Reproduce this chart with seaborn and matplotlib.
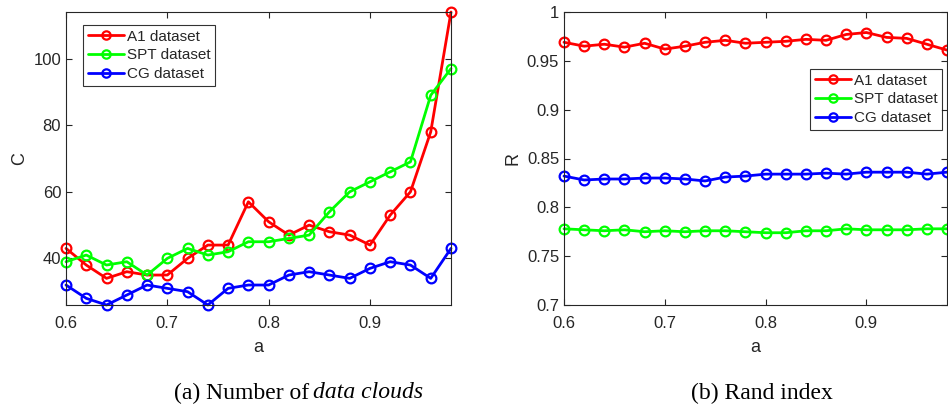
import numpy as np
import pandas as pd
import seaborn as sns
import matplotlib.pyplot as plt

# parameter a on the x axis
a_values = [0.60, 0.62, 0.64, 0.66, 0.68, 0.70, 0.72, 0.74, 0.76, 0.78,
            0.80, 0.82, 0.84, 0.86, 0.88, 0.90, 0.92, 0.94, 0.96, 0.98]
datasets = ["A1 dataset", "SPT dataset", "CG dataset"]

# (a) number of data clouds
c_a1 = [43, 38, 34, 36, 35, 35, 40, 44, 44, 57, 51, 47, 50, 48, 47, 44, 53, 60, 78, 114]
c_spt = [39, 41, 38, 39, 35, 40, 43, 41, 42, 45, 45, 46, 47, 54, 60, 63, 66, 69, 89, 97]
c_cg = [32, 28, 26, 29, 32, 31, 30, 26, 31, 32, 32, 35, 36, 35, 34, 37, 39, 38, 34, 43]

# (b) rand index
r_a1 = [0.969, 0.965, 0.967, 0.964, 0.968, 0.962, 0.965, 0.969, 0.971, 0.968,
        0.969, 0.970, 0.972, 0.971, 0.977, 0.979, 0.974, 0.973, 0.967, 0.961]
r_spt = [0.778, 0.777, 0.776, 0.777, 0.775, 0.776, 0.775, 0.776, 0.776, 0.775,
         0.774, 0.774, 0.776, 0.776, 0.778, 0.777, 0.777, 0.777, 0.778, 0.778]
r_cg = [0.832, 0.828, 0.829, 0.829, 0.830, 0.830, 0.829, 0.827, 0.831, 0.832,
        0.834, 0.834, 0.834, 0.835, 0.834, 0.836, 0.836, 0.836, 0.834, 0.836]

colors = {"A1 dataset": "#ff0000", "SPT dataset": "#00ff00", "CG dataset": "#0000ff"}


def long_form(series):
    dfs = []
    for name, vals in zip(datasets, series):
        dfs.append(pd.DataFrame({"a": a_values, "v": vals, "cat": name}))
    return pd.concat(dfs)


sns.set_theme(style="ticks")
plt.rcParams["font.family"] = ["Liberation Sans", "DejaVu Sans"]
gray = "#262626"
plt.rcParams.update({
    "xtick.direction": "in", "ytick.direction": "in",
    "xtick.color": gray, "ytick.color": gray,
    "xtick.labelcolor": gray, "ytick.labelcolor": gray,
    "axes.edgecolor": gray, "axes.labelcolor": gray,
    "xtick.major.size": 4, "ytick.major.size": 4,
    "axes.linewidth": 0.8,
})

fig = plt.figure(figsize=(9.48, 4.09), dpi=100)
ax1 = fig.add_axes([66 / 948, 1 - 305 / 409, 385 / 948, 293 / 409])
ax2 = fig.add_axes([564 / 948, 1 - 305 / 409, 383 / 948, 293 / 409])


def draw(ax, series, ylim, yticks, ylabel, legend_loc):
    df = long_form(series)
    sns.lineplot(data=df, x="a", y="v", hue="cat", palette=colors, ax=ax,
                 marker="o", markersize=7, markerfacecolor="none",
                 markeredgewidth=1.6, linewidth=2, clip_on=False)
    for line in ax.lines:
        line.set_markeredgecolor(line.get_color())
    ax.set_xlim(0.6, 0.98)
    ax.set_ylim(*ylim)
    ax.set_xticks([0.6, 0.7, 0.8, 0.9])
    ax.set_xticklabels(["0.6", "0.7", "0.8", "0.9"])
    ax.set_yticks(yticks)
    ax.tick_params(labelsize=12, top=True, right=True, width=0.8)
    ax.tick_params(axis="x", pad=8)
    ax.set_xlabel("a", fontsize=13, labelpad=6)
    ax.set_ylabel(ylabel, fontsize=13)
    for s in ax.spines.values():
        s.set_visible(True)
    leg = ax.legend(loc=legend_loc[0], bbox_to_anchor=legend_loc[1], fontsize=11,
                    frameon=True, fancybox=False, edgecolor="black",
                    handlelength=2.4, borderpad=0.3, labelspacing=0.32,
                    handletextpad=0.15, borderaxespad=0)
    leg.get_frame().set_linewidth(0.8)
    for h in leg.get_lines():
        h.set_markerfacecolor("none")
        h.set_markeredgecolor(h.get_color())
        h.set_markersize(6)


draw(ax1, [c_a1, c_spt, c_cg], (26, 114), [40, 60, 80, 100], "C",
     ("upper left", (17 / 385, 1 - 13 / 293)))
ax1.set_yticklabels(["40", "60", "80", "100"])
draw(ax2, [r_a1, r_spt, r_cg], (0.7, 1.0), [0.7, 0.75, 0.8, 0.85, 0.9, 0.95, 1.0], "R",
     ("upper left", ((810 - 564) / 383, 1 - 57 / 293)))
ax2.set_yticklabels(["0.7", "0.75", "0.8", "0.85", "0.9", "0.95", "1"])

serif = ["Liberation Serif", "DejaVu Serif"]
ycap = 1 - 393 / 409
fig.text(309 / 948, ycap, "(a) Number of", ha="right", va="center",
         fontsize=17, family=serif, color="black")
fig.text(313 / 948, ycap, "data clouds", ha="left", va="center",
         fontsize=17, family=serif, style="italic", color="black")
fig.text(762 / 948, ycap, "(b) Rand index", ha="center", va="center",
         fontsize=17, family=serif, color="black")

fig.savefig("out.png", dpi=100)
